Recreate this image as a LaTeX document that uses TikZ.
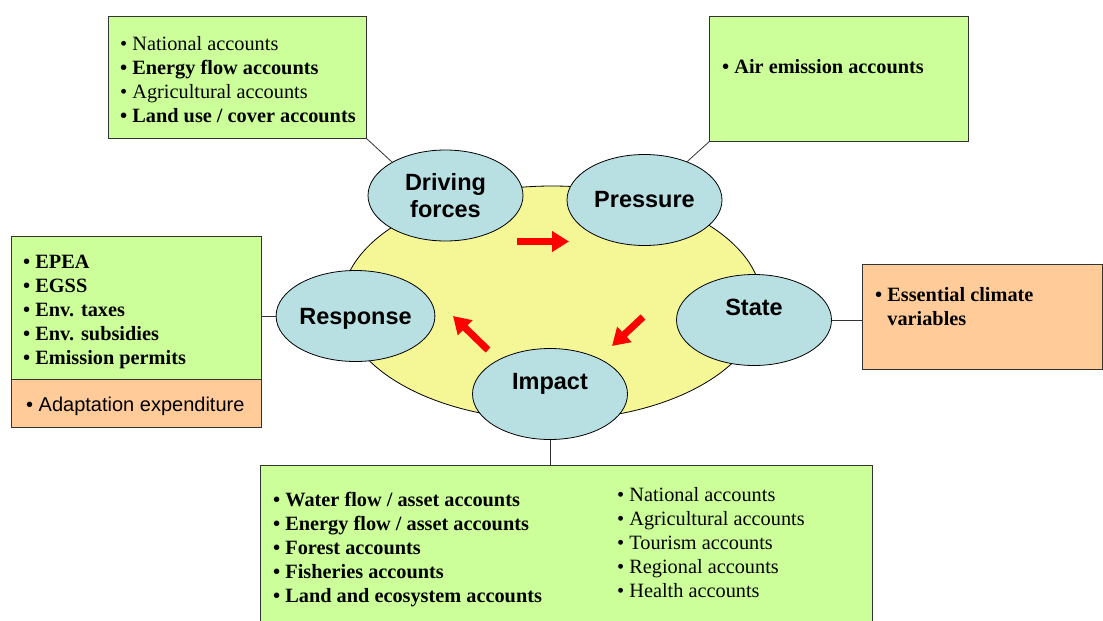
\documentclass[tikz,border=0pt]{standalone}
\usepackage{fontspec}
\setmainfont{Liberation Serif}
\setsansfont{Liberation Sans}
\usepackage{tikz}
\usetikzlibrary{arrows.meta,positioning,calc,shapes.geometric}
\definecolor{acctgreen}{RGB}{204,255,153}
\definecolor{climorange}{RGB}{255,204,153}
\definecolor{cycleyellow}{RGB}{245,247,150}
\definecolor{stageblue}{RGB}{184,223,226}

\begin{document}
\begin{tikzpicture}[x=1pt, y=-1pt,
  acctbox/.style={draw=black!80, line width=0.8pt, fill=acctgreen, anchor=north west, inner sep=0pt},
  climbox/.style={acctbox, fill=climorange},
  stage/.style={draw=black, line width=0.8pt, fill=stageblue, ellipse, minimum width=155pt, minimum height=91pt, inner sep=0pt, align=center, font=\fontsize{23.5}{27}\selectfont\sffamily\bfseries},
  items/.style={anchor=north west, inner sep=0pt, align=left, font=\fontsize{20.3}{24}\selectfont},
  link/.style={draw=black!80, line width=0.8pt},
  flow/.style={red, line width=7pt, -{Triangle[width=20pt, length=17pt]}}]
\useasboundingbox (0,0) rectangle (1103,621);
% DPSIR cycle
\node[ellipse, draw=black, line width=0.8pt, fill=cycleyellow, minimum width=420pt, minimum height=234pt] (cycle) at (552,303) {};
\node[stage] (drive) at (445.5,195.5) {Driving\\forces};
\node[stage] (press) at (644.5,200) {Pressure};
\node[stage, text depth=26pt] (state) at (754,320) {State};
\node[stage, text depth=0pt] (resp) at (355.5,316) {Response};
\node[stage, text depth=25pt] (impact) at (550,394) {Impact};
% red arrows
\coordinate (f1s) at (517,241.5); \coordinate (f1e) at (569,241.5);
\coordinate (f2s) at (643,317); \coordinate (f2e) at (612,346);
\coordinate (f3s) at (488,350); \coordinate (f3e) at (453,316);
\draw[flow] (f1s) -- (f1e);
\draw[flow] (f2s) -- (f2e);
\draw[flow] (f3s) -- (f3e);
% account boxes
\node[acctbox, minimum width=258pt, minimum height=122pt] (natbox) at (108,16) {};
\node[items] at ($(natbox.north west)+(12,20.6)$) {%
  • National accounts\\
  \textbf{• Energy flow accounts}\\
  • Agricultural accounts\\
  \textbf{• Land use / cover accounts}};
\node[acctbox, minimum width=259pt, minimum height=125pt] (airbox) at (709,16) {};
\node[items] at ($(airbox.north west)+(13,43.2)$) {\textbf{• Air emission accounts}};
\node[acctbox, minimum width=250pt, minimum height=143pt] (respbox) at (11,236) {};
\node[items] at ($(respbox.north west)+(12,18.5)$) {%
  \textbf{• EPEA}\\
  \textbf{• EGSS}\\
  \textbf{• Env. taxes}\\
  \textbf{• Env. subsidies}\\
  \textbf{• Emission permits}};
\node[climbox, minimum width=250pt, minimum height=48pt] (adaptbox) at (11,379) {};
\node[anchor=west, inner sep=0pt, font=\fontsize{20}{24}\selectfont\sffamily] at ($(adaptbox.west)+(15,3)$) {• Adaptation expenditure};
\node[climbox, minimum width=240pt, minimum height=105pt] (statebox) at (862,264) {};
\node[items] at ($(statebox.north west)+(13,23)$) {%
  \textbf{• Essential climate}\\
  \textbf{\hphantom{• }variables}};
\node[acctbox, minimum width=612pt, minimum height=170pt] (impbox) at (260,465) {};
\node[items] at ($(impbox.north west)+(13,26.8)$) {%
  \textbf{• Water flow / asset accounts}\\
  \textbf{• Energy flow / asset accounts}\\
  \textbf{• Forest accounts}\\
  \textbf{• Fisheries accounts}\\
  \textbf{• Land and ecosystem accounts}};
\node[items] at ($(impbox.north west)+(357,22.2)$) {%
  • National accounts\\
  • Agricultural accounts\\
  • Tourism accounts\\
  • Regional accounts\\
  • Health accounts};
% links
\draw[link] (natbox.south east) -- (drive.148);
\draw[link] (airbox.south west) -- (press.42);
\draw[link] (resp.west) -- (resp.west -| respbox.east);
\draw[link] (state.east) -- (state.east -| statebox.west);
\draw[link] (impact.south) -- (impact.south |- impbox.north);
\end{tikzpicture}
\end{document}
